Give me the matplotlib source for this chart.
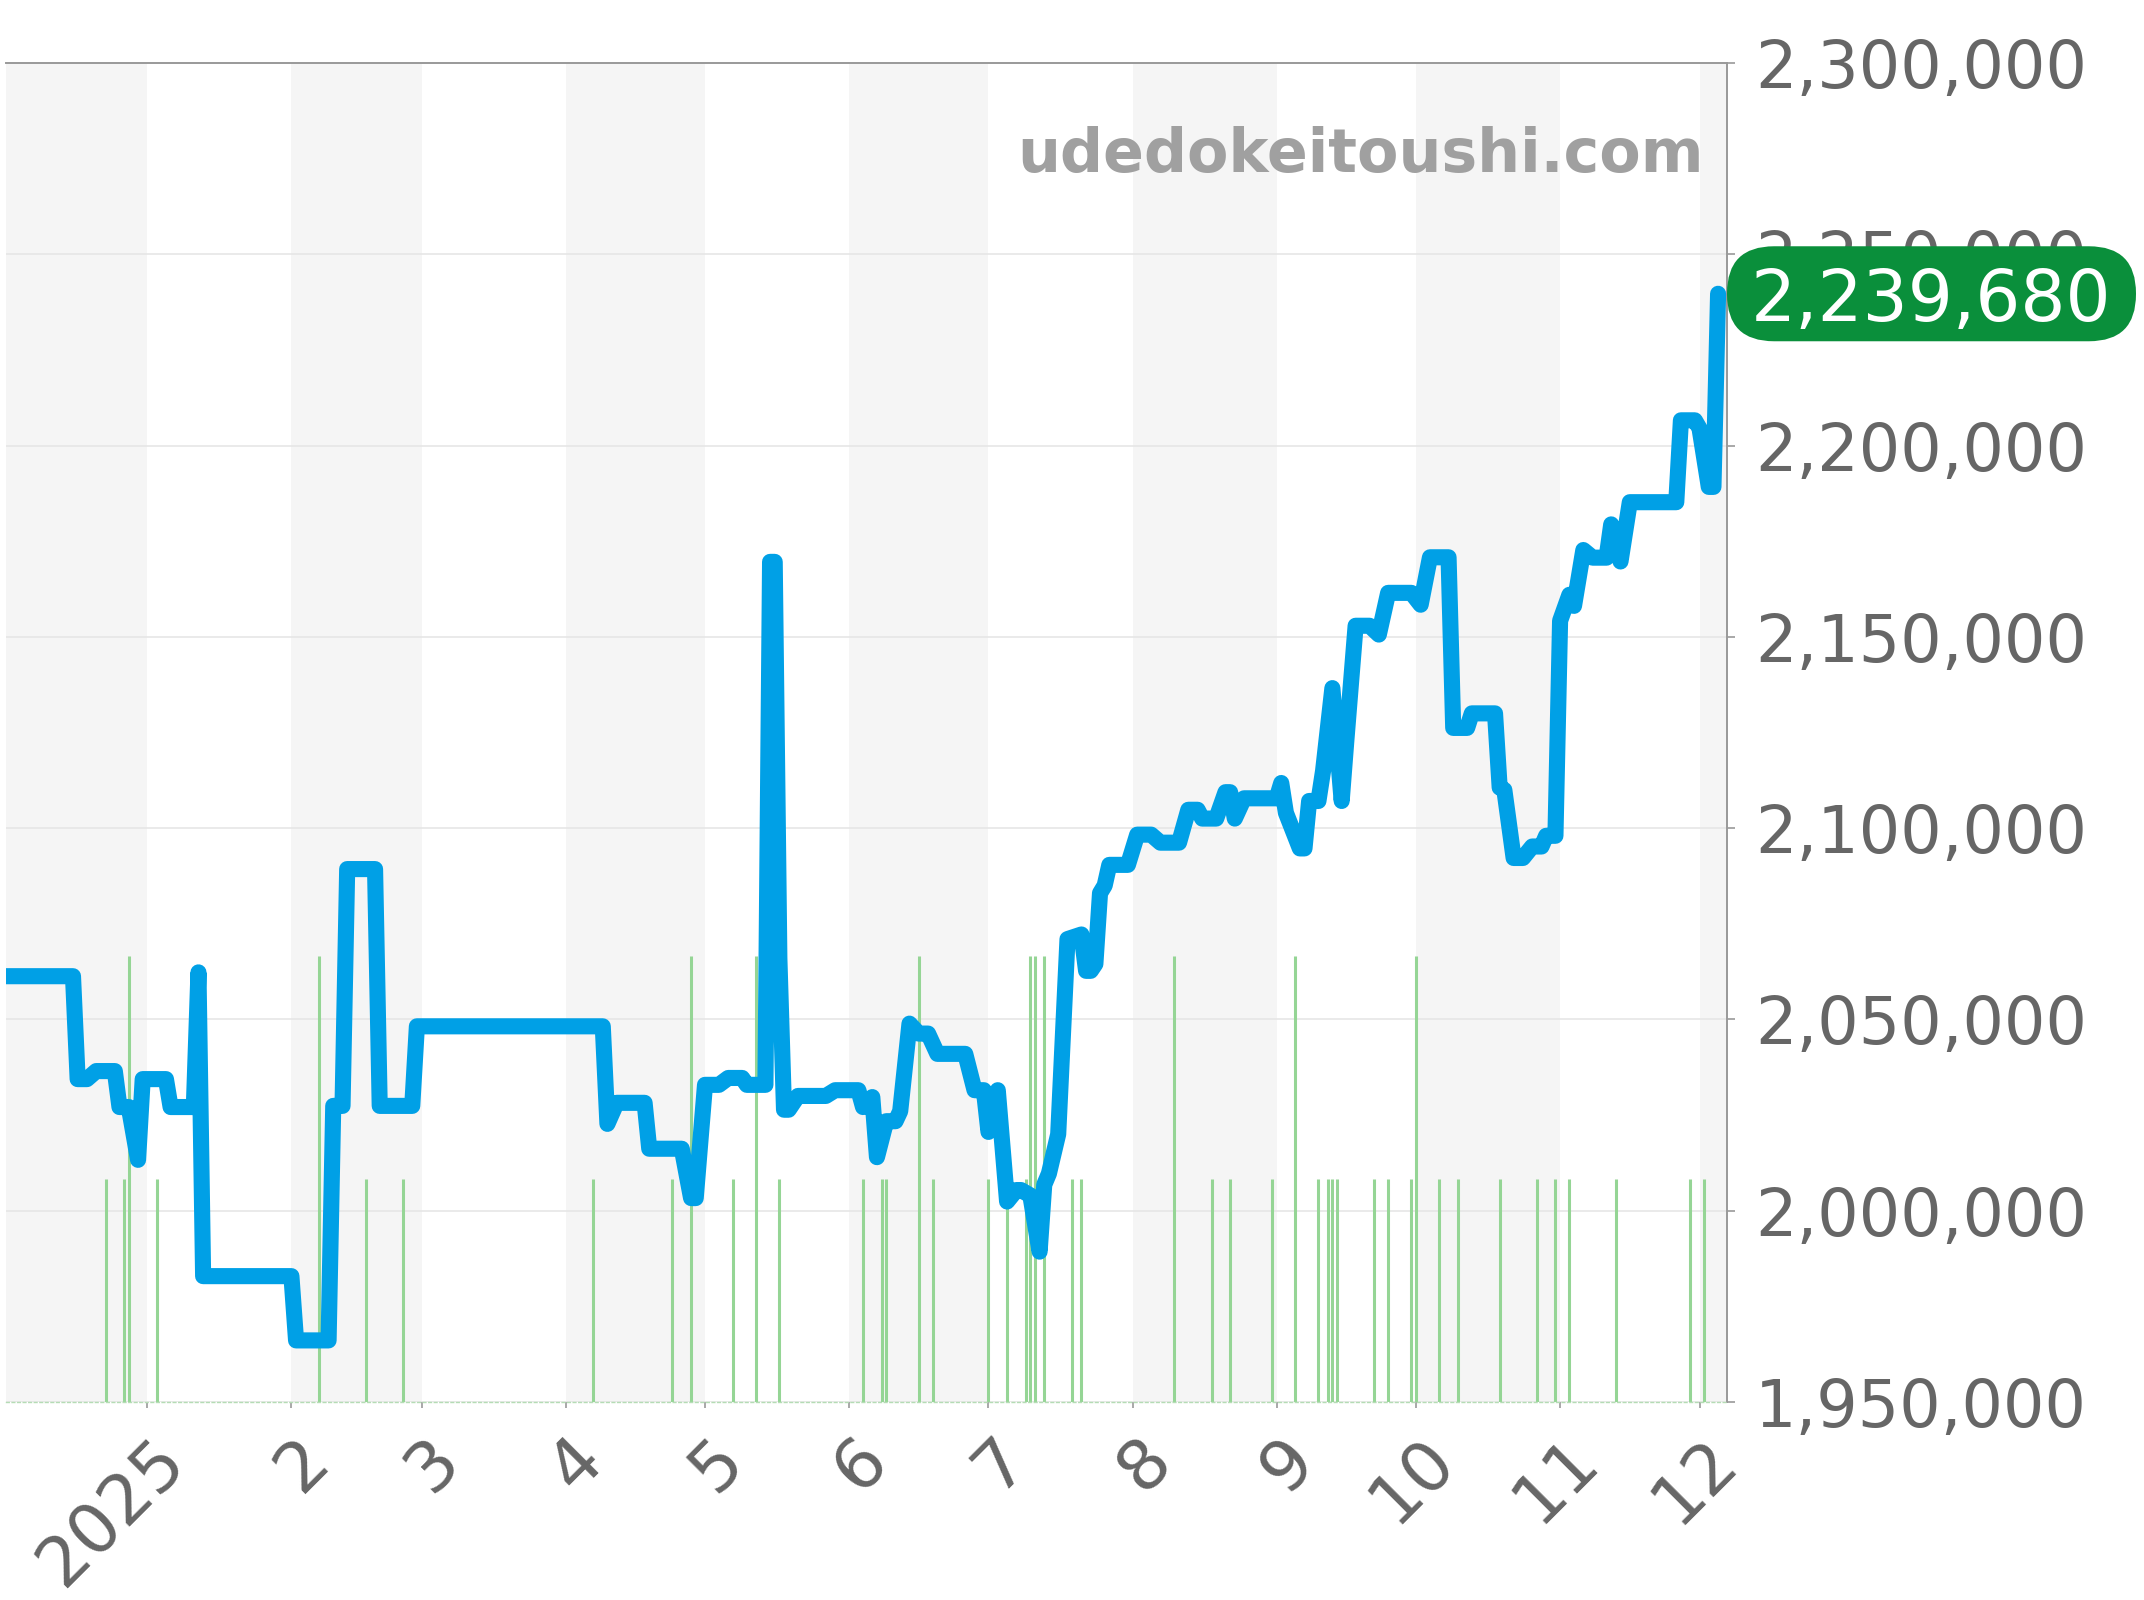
import matplotlib
matplotlib.use("Agg")
import matplotlib.pyplot as plt
from matplotlib.patches import FancyBboxPatch
from matplotlib.ticker import FuncFormatter
from matplotlib.transforms import blended_transform_factory, ScaledTranslation
import pandas as pd

# price history
price_dates = [
    "2024-12-01", "2024-12-16", "2024-12-17", "2024-12-19", "2024-12-21", "2024-12-25",
    "2024-12-26", "2024-12-28", "2024-12-30", "2024-12-31", "2025-01-05", "2025-01-06",
    "2025-01-11", "2025-01-12", "2025-01-13", "2025-02-01", "2025-02-02", "2025-02-09",
    "2025-02-10", "2025-02-12", "2025-02-13", "2025-02-19", "2025-02-20", "2025-02-27",
    "2025-02-28", "2025-04-09", "2025-04-10", "2025-04-12", "2025-04-18", "2025-04-19",
    "2025-04-26", "2025-04-28", "2025-04-29", "2025-05-01", "2025-05-04", "2025-05-06",
    "2025-05-09", "2025-05-10", "2025-05-14", "2025-05-15", "2025-05-16", "2025-05-17",
    "2025-05-18", "2025-05-19", "2025-05-21", "2025-05-27", "2025-05-29", "2025-06-03",
    "2025-06-04", "2025-06-06", "2025-06-07", "2025-06-09", "2025-06-11", "2025-06-12",
    "2025-06-14", "2025-06-16", "2025-06-18", "2025-06-20", "2025-06-26", "2025-06-28",
    "2025-06-30", "2025-07-01", "2025-07-03", "2025-07-05", "2025-07-07", "2025-07-08",
    "2025-07-10", "2025-07-12", "2025-07-13", "2025-07-14", "2025-07-16", "2025-07-18",
    "2025-07-21", "2025-07-22", "2025-07-23", "2025-07-24", "2025-07-25", "2025-07-26",
    "2025-07-27", "2025-07-31", "2025-08-02", "2025-08-05", "2025-08-07", "2025-08-11",
    "2025-08-13", "2025-08-15", "2025-08-16", "2025-08-19", "2025-08-21", "2025-08-22",
    "2025-08-23", "2025-08-25", "2025-09-01", "2025-09-02", "2025-09-03", "2025-09-06",
    "2025-09-07", "2025-09-08", "2025-09-10", "2025-09-11", "2025-09-13", "2025-09-15",
    "2025-09-16", "2025-09-18", "2025-09-21", "2025-09-23", "2025-09-25", "2025-09-30",
    "2025-10-02", "2025-10-04", "2025-10-08", "2025-10-09", "2025-10-12", "2025-10-13",
    "2025-10-18", "2025-10-19", "2025-10-20", "2025-10-22", "2025-10-24", "2025-10-26",
    "2025-10-28", "2025-10-29", "2025-10-31", "2025-11-01", "2025-11-03", "2025-11-04",
    "2025-11-06", "2025-11-08", "2025-11-11", "2025-11-12", "2025-11-14", "2025-11-14",
    "2025-11-16", "2025-11-26", "2025-11-27", "2025-11-30", "2025-12-01", "2025-12-03",
    "2025-12-04", "2025-12-05",
]
price_values = [
    2061300, 2061300, 2034400, 2034400, 2036500, 2036500,
    2027100, 2027100, 2013300, 2034400, 2034400, 2027100,
    2027100, 2062300, 1982900, 1982900, 1966100, 1966100,
    2027400, 2027400, 2089300, 2089300, 2027400, 2027400,
    2048200, 2048200, 2022700, 2028200, 2028200, 2016200,
    2016200, 2003300, 2003300, 2032900, 2032900, 2034700,
    2034700, 2032900, 2032900, 2169600, 2169600, 2066000,
    2026400, 2026400, 2030000, 2030000, 2031500, 2031500,
    2027100, 2029700, 2014000, 2023400, 2023400, 2026000,
    2048900, 2046300, 2046300, 2041000, 2041000, 2031500,
    2031500, 2020600, 2031500, 2002400, 2005400, 2005400,
    2004000, 1989300, 2006800, 2009700, 2020000, 2071000,
    2072200, 2062700, 2062700, 2064500, 2083000, 2085000,
    2090400, 2090400, 2098300, 2098300, 2096200, 2096200,
    2104800, 2104800, 2102500, 2102500, 2109400, 2109400,
    2102500, 2107800, 2107800, 2111800, 2104000, 2094700,
    2094700, 2107100, 2107100, 2115000, 2136600, 2107100,
    2122800, 2152900, 2152900, 2150600, 2161500, 2161500,
    2158400, 2170800, 2170800, 2126200, 2126200, 2130000,
    2130000, 2110600, 2110000, 2092200, 2092200, 2095200,
    2095200, 2098000, 2098000, 2154200, 2161000, 2158100,
    2172700, 2170700, 2170700, 2179400, 2169700, 2169700,
    2185200, 2185200, 2206600, 2206600, 2204500, 2189200,
    2189200, 2239680,
]

# number of listings per day (green bars)
listing_dates = [
    "2024-12-23", "2024-12-27", "2024-12-28", "2025-01-03", "2025-02-07", "2025-02-17",
    "2025-02-25", "2025-04-07", "2025-04-24", "2025-04-28", "2025-05-07", "2025-05-12",
    "2025-05-17", "2025-06-04", "2025-06-08", "2025-06-09", "2025-06-16", "2025-06-19",
    "2025-07-01", "2025-07-05", "2025-07-09", "2025-07-10", "2025-07-11", "2025-07-13",
    "2025-07-19", "2025-07-21", "2025-08-10", "2025-08-18", "2025-08-22", "2025-08-31",
    "2025-09-05", "2025-09-10", "2025-09-12", "2025-09-13", "2025-09-14", "2025-09-22",
    "2025-09-25", "2025-09-30", "2025-10-01", "2025-10-06", "2025-10-10", "2025-10-19",
    "2025-10-27", "2025-10-31", "2025-11-03", "2025-11-13", "2025-11-29", "2025-12-02",
]
listing_counts = [
    1, 1, 2, 1, 2, 1,
    1, 1, 1, 2, 1, 2,
    1, 1, 1, 1, 2, 1,
    1, 1, 1, 2, 2, 2,
    1, 1, 2, 1, 1, 1,
    2, 1, 1, 1, 1, 1,
    1, 1, 2, 1, 1, 1,
    1, 1, 1, 1, 1, 1,
]
count_max = 6

tick_dates = ["2025-01-01", "2025-02-01", "2025-03-01", "2025-04-01", "2025-05-01", "2025-06-01",
              "2025-07-01", "2025-08-01", "2025-09-01", "2025-10-01", "2025-11-01", "2025-12-01"]
tick_labels = ["2025", "2", "3", "4", "5", "6", "7", "8", "9", "10", "11", "12"]
shaded_months = ["2024-12-01", "2025-02-01", "2025-04-01", "2025-06-01",
                 "2025-08-01", "2025-10-01", "2025-12-01"]

x_start, x_end = "2024-12-01 14:00", "2025-12-06 22:00"
y_min, y_max, y_step = 1950000, 2300000, 50000

dpi = 200
fig = plt.figure(figsize=(2144 / dpi, 1600 / dpi), dpi=dpi)
ax = fig.add_axes([6 / 2144, 1 - 1402 / 1600, 1721 / 2144, 1339 / 1600])

grey = "#666666"
edge = "#999999"

# alternate month shading
for m in pd.to_datetime(shaded_months):
    ax.axvspan(m, m + pd.offsets.MonthBegin(1), color="#f5f5f5", lw=0, zorder=0)

# listing bars, scaled on their own 0..count_max range
ax.vlines(pd.to_datetime(listing_dates), 0, [c / count_max for c in listing_counts],
          transform=ax.get_xaxis_transform(), color="#95d595", lw=1.1, zorder=2)

ax.plot(pd.to_datetime(price_dates), price_values, color="#00a0e6", lw=5.8,
        solid_joinstyle="round", solid_capstyle="round", zorder=3)

ax.set_xlim(pd.Timestamp(x_start), pd.Timestamp(x_end))
ax.set_ylim(y_min, y_max)
ax.set_yticks(range(y_min, y_max + 1, y_step))
ax.yaxis.set_major_formatter(FuncFormatter(lambda v, p: f"{int(v):,}"))
ax.yaxis.tick_right()
ax.grid(axis="y", color="#e6e6e6", lw=0.6)
ax.set_axisbelow(True)

ax.tick_params(axis="y", length=3, width=0.6, color=edge, pad=7,
               labelsize=23.5, labelcolor=grey)
ax.tick_params(axis="x", length=2, width=0.6, color=edge, pad=15,
               labelsize=25, labelcolor=grey)

ax.set_xticks(pd.to_datetime(tick_dates))
ax.set_xticklabels(tick_labels, rotation=45, ha="right", va="center",
                   rotation_mode="anchor")
shift = ScaledTranslation(27 / dpi, 0, fig.dpi_scale_trans)
for lab in ax.xaxis.get_majorticklabels():
    lab.set_transform(lab.get_transform() + shift)

ax.spines["left"].set_visible(False)
for side in ["top", "right"]:
    ax.spines[side].set_color(edge)
    ax.spines[side].set_linewidth(0.7)
ax.spines["bottom"].set_color("#b5dcb5")
ax.spines["bottom"].set_linewidth(0.5)
ax.spines["bottom"].set_linestyle((0, (2, 2)))

ax.text(0.9866, 0.9186, "udedokeitoushi.com", transform=ax.transAxes,
        ha="right", va="baseline", fontsize=21.7, fontweight="bold",
        color="#a0a0a0", zorder=4)

# latest price badge
last_val = price_values[-1]
W, H = ax.bbox.width, ax.bbox.height
yr = y_max - y_min
trans = blended_transform_factory(ax.transAxes, ax.transData)
box_w = 409 / W
box_h = 95 / H * yr
badge = FancyBboxPatch((1.0, last_val - box_h / 2), box_w, box_h,
                       boxstyle=f"round,pad=0,rounding_size={47 / W}",
                       mutation_aspect=W / H * yr, transform=trans,
                       clip_on=False, fc="#0a8f3b", ec="none", zorder=10)
ax.add_patch(badge)
ax.text(1.0 + box_w / 2, last_val, f"{last_val:,}", transform=trans,
        ha="center", va="center_baseline", fontsize=25.5, color="white",
        zorder=11, clip_on=False)

fig.savefig("out.png", dpi=dpi)
